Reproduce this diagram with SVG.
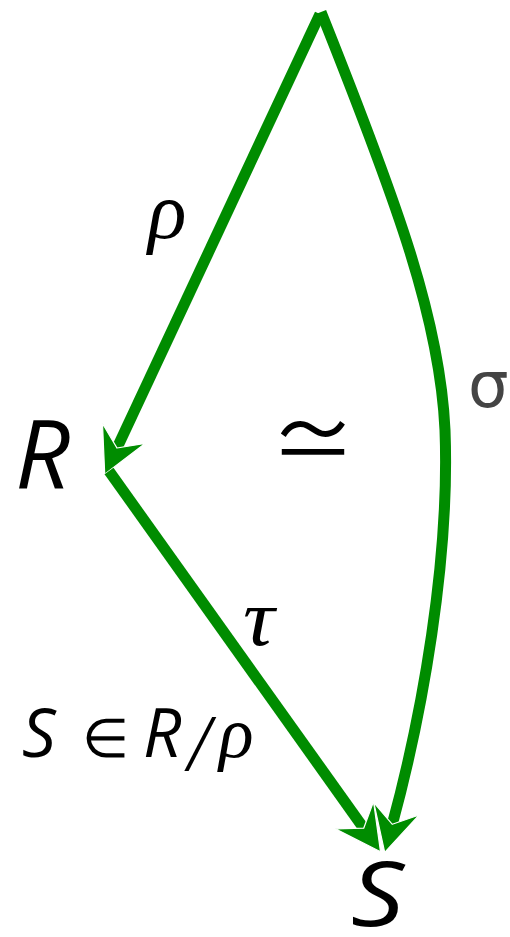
<svg xmlns="http://www.w3.org/2000/svg" width="510" height="937" viewBox="0 0 510 937">
<style>
.edge{fill:none;stroke:#008c00;stroke-width:11;stroke-linecap:butt}
.sans{font-family:"Open Sans","DejaVu Sans",sans-serif;font-style:italic;fill:#000}
.math{font-family:"Liberation Serif","DejaVu Serif",serif;font-style:italic;fill:#000}
.sym{font-family:"DejaVu Sans",sans-serif;fill:#000}
.iso{font-family:"Noto Sans CJK JP","DejaVu Sans",sans-serif;font-weight:400;fill:#000}
</style>
<defs>
<marker id="arr" markerUnits="userSpaceOnUse" markerWidth="60" markerHeight="60" refX="0" refY="0" orient="auto" overflow="visible">
<path d="M0,0 L-16,-23.5 L29,0 L-16,23.5 Z" fill="#008c00" stroke="#fff" stroke-width="1.2" stroke-linejoin="miter"/>
</marker>
</defs>
<rect width="510" height="937" fill="#fff"/>
<g id="connectors">
<path id="e-rho" class="edge" d="M320,14 L117,448" marker-end="url(#arr)"/>
<path id="e-tau" class="edge" d="M109,471 L363.7,828.2" marker-end="url(#arr)"/>
<path id="e-sigma" class="edge" d="M321,12 C398,205 440,320 445,430 C450,560 422,715 392.3,824.3" marker-end="url(#arr)"/>
</g>
<g id="node-R"><text class="sans" x="15" y="488" font-size="96">R</text></g>
<g id="node-S"><text class="sans" x="0" y="0" font-size="90" transform="translate(351,926) scale(1.17,1)">S</text></g>
<g id="label-rho"><text class="math" x="148" y="238" font-size="80">ρ</text></g>
<g id="label-tau"><text class="math" x="245" y="645" font-size="80" transform="translate(265,0) scale(1.1,1) translate(-265,0)">τ</text></g>
<g id="label-sigma"><text class="sym" x="468" y="407" font-size="64" style="fill:#444">σ</text></g>
<g id="label-iso"><text class="iso" x="313" y="472" font-size="86" text-anchor="middle">≃</text></g>
<g id="label-quot"><text x="22" y="757" font-size="67"><tspan class="sans" x="22">S</tspan><tspan class="sym" x="82" font-size="54" font-weight="200">∈</tspan><tspan class="sans" x="143">R</tspan><tspan class="math" x="188" y="770" font-size="80">/</tspan><tspan class="math" x="219" y="757" font-size="72">ρ</tspan></text></g>
</svg>
